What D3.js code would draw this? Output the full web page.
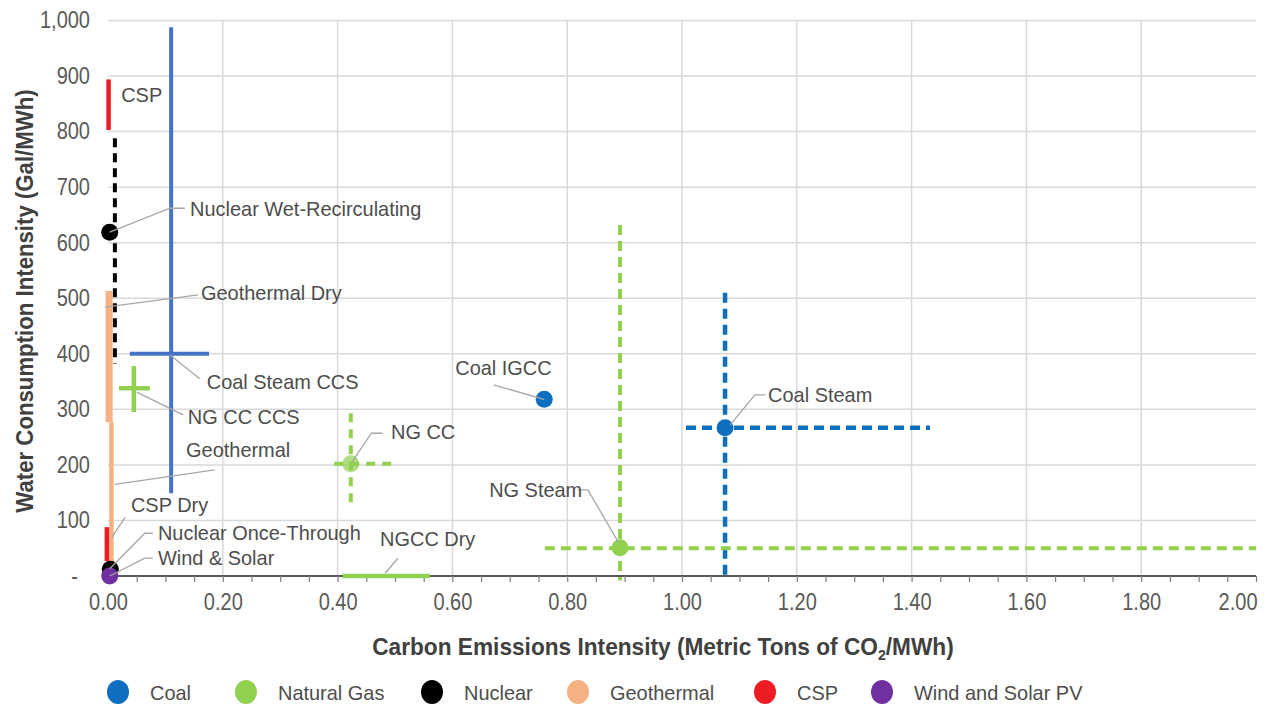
<!DOCTYPE html>
<html>
<head>
<meta charset="utf-8">
<script src="https://cdn.jsdelivr.net/npm/d3@7/dist/d3.min.js"></script>
<style>
  html, body { margin: 0; padding: 0; background: #fff; }
  svg { display: block; }
  svg text { font-family: "Liberation Sans", Arial, "DejaVu Sans", sans-serif; }
</style>
</head>
<body>
<svg id="chart" width="1267" height="705"></svg>
<script>
// ---------------- DATA ----------------
const xTicks = [0, 0.2, 0.4, 0.6, 0.8, 1.0, 1.2, 1.4, 1.6, 1.8, 2.0];
const yTicks = [0, 100, 200, 300, 400, 500, 600, 700, 800, 900, 1000];
const xMinorTicks = d3.range(0, 41).map(i => i * 0.05);

const categories = ["Coal", "Natural Gas", "Nuclear", "Geothermal", "CSP", "Wind and Solar PV"];

// [technology, category, x (tCO2/MWh), y (gal/MWh)]
const points = [
  ["Coal Steam", "Coal", 1.075, 267],
  ["Coal IGCC", "Coal", 0.76, 318],
  ["NG Steam", "Natural Gas", 0.892, 51],
  ["NG CC", "Natural Gas", 0.423, 202],
  ["Nuclear Wet-Recirculating", "Nuclear", 0.003, 619],
  ["Nuclear Once-Through", "Nuclear", 0.004, 12],
  ["Wind & Solar", "Wind and Solar PV", 0.003, 0]
];

// water ranges: [technology, category, x, yLow, yHigh]
const waterRanges = [
  ["Coal Steam CCS", "Coal", 0.11, 149, 988],
  ["Coal Steam", "Coal", 1.075, -8, 510],
  ["NG Steam", "Natural Gas", 0.892, -8, 632],
  ["NG CC", "Natural Gas", 0.423, 122, 293],
  ["NG CC CCS", "Natural Gas", 0.045, 295, 378],
  ["Nuclear Wet-Recirculating", "Nuclear", 0.012, 382, 788],
  ["Geothermal Dry", "Geothermal", 0.002, 277, 513],
  ["Geothermal", "Geothermal", 0.006, 5, 277],
  ["CSP", "CSP", 0.001, 803, 894],
  ["CSP Dry", "CSP", -0.002, 27, 88]
];

// carbon ranges: [technology, category, y, xLow, xHigh]
const carbonRanges = [
  ["Coal Steam CCS", "Coal", 400, 0.038, 0.176],
  ["Coal Steam", "Coal", 267, 1.007, 1.432],
  ["NG Steam", "Natural Gas", 50, 0.761, 2.0],
  ["NG CC", "Natural Gas", 202, 0.394, 0.497],
  ["NG CC CCS", "Natural Gas", 338, 0.019, 0.073],
  ["NGCC Dry", "Natural Gas", 0, 0.409, 0.561]
];

// ---------------- LAYOUT / STYLE ----------------
const plot = { left: 108, right: 1256, top: 20.5, bottom: 576 };

const catColor = {
  "Coal": "#0E6EBF",
  "Natural Gas": "#92D050",
  "Nuclear": "#000000",
  "Geothermal": "#F4B183",
  "CSP": "#ED1C24",
  "Wind and Solar PV": "#7030A0"
};
const techStyle = {
  "Coal Steam CCS": { color: "#4472C4", width: 4 },
  "Coal Steam": { dash: "10,6", width: 4.5 },
  "NG Steam": { dash: "10,6", width: 4 },
  "NG CC": { dash: "9,7", width: 4 },
  "Nuclear Wet-Recirculating": { dash: "9,6", width: 4 },
  "Geothermal Dry": { width: 7 },
  "Geothermal": { width: 4.5 },
  "NG CC CCS": { width: 4.5 },
  "NGCC Dry": { width: 4.5 },
  "CSP": { width: 4.5 },
  "CSP Dry": { width: 4.5 }
};
const pointStyle = { "NG CC": { opacity: 0.72 } };

// label placement in data units: text position and leader polyline
const labelLayout = [
  { text: "CSP", at: [0.023, 866], leader: [] },
  { text: "Nuclear Wet-Recirculating", at: [0.143, 662], leader: [[0.003, 619], [0.108, 662], [0.134, 662]] },
  { text: "Geothermal Dry", at: [0.162, 511], leader: [[-0.005, 484], [0.157, 506]] },
  { text: "Coal Steam CCS", at: [0.172, 351], leader: [[0.108, 398], [0.16, 355]] },
  { text: "NG CC CCS", at: [0.139, 288], leader: [[0.05, 331], [0.131, 290]] },
  { text: "Geothermal", at: [0.136, 227], leader: [[0.012, 165], [0.186, 191]] },
  { text: "CSP Dry", at: [0.04, 128], leader: [[0.007, 70], [0.03, 106]] },
  { text: "Nuclear Once-Through", at: [0.087, 79], leader: [[0.003, 13], [0.064, 77], [0.078, 77]] },
  { text: "Wind & Solar", at: [0.087, 34], leader: [[0.003, 0], [0.064, 32], [0.078, 32]] },
  { text: "NGCC Dry", at: [0.474, 68], leader: [[0.483, 5], [0.505, 32]] },
  { text: "NG CC", at: [0.493, 261], leader: [[0.425, 205], [0.459, 257], [0.478, 257]] },
  { text: "Coal IGCC", at: [0.605, 376], leader: [[0.672, 344], [0.76, 318]] },
  { text: "NG Steam", at: [0.664, 155], leader: [[0.819, 155], [0.836, 155], [0.889, 61]] },
  { text: "Coal Steam", at: [1.15, 326], leader: [[1.084, 272], [1.127, 326], [1.145, 326]] }
];
const legendX = [118, 246, 432, 578, 765, 882];
const TICK_SX = 0.87, LABEL_SX = 0.95, TITLE_SX = 0.945;

// ---------------- DRAW ----------------
const svg = d3.select("#chart");
const x = d3.scaleLinear().domain([0, 2]).range([plot.left, plot.right]);
const y = d3.scaleLinear().domain([0, 1000]).range([plot.bottom, plot.top]);

// gridlines
const grid = svg.append("g");
grid.selectAll("line.h").data(yTicks.filter(d => d > 0)).join("line")
  .attr("x1", plot.left).attr("x2", plot.right)
  .attr("y1", d => y(d)).attr("y2", d => y(d))
  .attr("stroke", "#D9D9D9").attr("stroke-width", 1.5);
grid.selectAll("line.v").data(xTicks.filter(d => d > 0 && d < 2)).join("line")
  .attr("y1", plot.top).attr("y2", plot.bottom)
  .attr("x1", d => x(d)).attr("x2", d => x(d))
  .attr("stroke", "#D9D9D9").attr("stroke-width", 1.5);

// x axis: line + minor ticks
const gx = svg.append("g").attr("transform", `translate(0,${plot.bottom})`)
  .call(d3.axisBottom(x).tickValues(xMinorTicks).tickSize(6).tickFormat(""));
gx.select(".domain").attr("stroke", "#595959").attr("stroke-width", 2.2).attr("d", `M${plot.left},0H${plot.right}`);
gx.selectAll(".tick line").attr("stroke", "#7F7F7F").attr("stroke-width", 1.2);

// x tick labels
const gxl = svg.append("g").attr("transform", `translate(0,${plot.bottom + 18})`)
  .call(d3.axisBottom(x).tickValues(xTicks).tickSize(0).tickPadding(0).tickFormat(d3.format(".2f")));
gxl.select(".domain").remove();
gxl.selectAll("text")
  .attr("font-family", null).attr("font-size", 23).attr("fill", "#595959")
  .attr("dy", "0.71em").attr("y", 0)
  .attr("text-anchor", d => d === 2 ? "end" : "middle")
  .attr("x", d => d === 2 ? 1 / TICK_SX : 0)
  .attr("transform", `scale(${TICK_SX},1)`);

// y tick labels
const gy = svg.append("g").attr("transform", `translate(90,0)`)
  .call(d3.axisLeft(y).tickValues(yTicks).tickSize(0).tickPadding(0)
    .tickFormat(d => d === 0 ? "-" : d3.format(",")(d)));
gy.select(".domain").remove();
gy.selectAll("text")
  .attr("font-family", null).attr("font-size", 23).attr("fill", "#595959")
  .attr("x", d => d === 0 ? -12 / TICK_SX : 0)
  .attr("transform", `scale(${TICK_SX},1)`);

// ranges
const marks = svg.append("g");
function styleOf(name, cat) {
  const s = techStyle[name] || {};
  return { color: s.color || catColor[cat], dash: s.dash || null, width: s.width || 4 };
}
marks.selectAll("line.wr").data(waterRanges).join("line")
  .attr("x1", d => x(d[2])).attr("x2", d => x(d[2]))
  .attr("y1", d => y(d[4])).attr("y2", d => y(d[3]))
  .attr("stroke", d => styleOf(d[0], d[1]).color)
  .attr("stroke-width", d => styleOf(d[0], d[1]).width)
  .attr("stroke-dasharray", d => styleOf(d[0], d[1]).dash);
marks.selectAll("line.cr").data(carbonRanges).join("line")
  .attr("y1", d => y(d[2])).attr("y2", d => y(d[2]))
  .attr("x1", d => x(d[3])).attr("x2", d => x(d[4]))
  .attr("stroke", d => styleOf(d[0], d[1]).color)
  .attr("stroke-width", d => styleOf(d[0], d[1]).width)
  .attr("stroke-dasharray", d => styleOf(d[0], d[1]).dash);

// points
svg.append("g").selectAll("circle").data(points).join("circle")
  .attr("cx", d => x(d[2])).attr("cy", d => y(d[3])).attr("r", 8.5)
  .attr("fill", d => catColor[d[1]])
  .attr("fill-opacity", d => (pointStyle[d[0]] || {}).opacity || 1);

// labels + leaders
const ann = svg.append("g");
const lineGen = d3.line().x(p => x(p[0])).y(p => y(p[1]));
ann.selectAll("path").data(labelLayout.filter(d => d.leader.length)).join("path")
  .attr("d", d => lineGen(d.leader))
  .attr("fill", "none").attr("stroke", "#A6A6A6").attr("stroke-width", 1.3);
ann.selectAll("text").data(labelLayout).join("text")
  .attr("transform", d => `translate(${x(d.at[0])},${y(d.at[1])}) scale(${LABEL_SX},1)`)
  .attr("dy", "0.36em")
  .attr("font-size", 21)
  .attr("fill", "#4D4D4D")
  .text(d => d.text);

// axis titles
const xt = svg.append("text")
  .attr("transform", `translate(663,655) scale(${TITLE_SX},1)`)
  .attr("text-anchor", "middle")
  .attr("font-size", 24).attr("font-weight", "bold")
  .attr("fill", "#404040");
xt.append("tspan").text("Carbon Emissions Intensity (Metric Tons of CO");
xt.append("tspan").attr("font-size", 15).attr("dy", 5).text("2");
xt.append("tspan").attr("dy", -5).text("/MWh)");

svg.append("text")
  .attr("transform", `translate(33,301) rotate(-90) scale(0.925,1)`)
  .attr("text-anchor", "middle")
  .attr("font-size", 24).attr("font-weight", "bold")
  .attr("fill", "#404040")
  .text("Water Consumption Intensity (Gal/MWh)");

// legend
const lg = svg.append("g").selectAll("g").data(categories).join("g")
  .attr("transform", (d, i) => `translate(${legendX[i]},692)`);
lg.append("ellipse").attr("rx", 11).attr("ry", 12).attr("fill", d => catColor[d]);
lg.append("text")
  .attr("transform", `translate(32,0) scale(${LABEL_SX},1)`)
  .attr("dy", "0.36em")
  .attr("font-size", 21)
  .attr("fill", "#4D4D4D").text(d => d);
</script>
</body>
</html>
